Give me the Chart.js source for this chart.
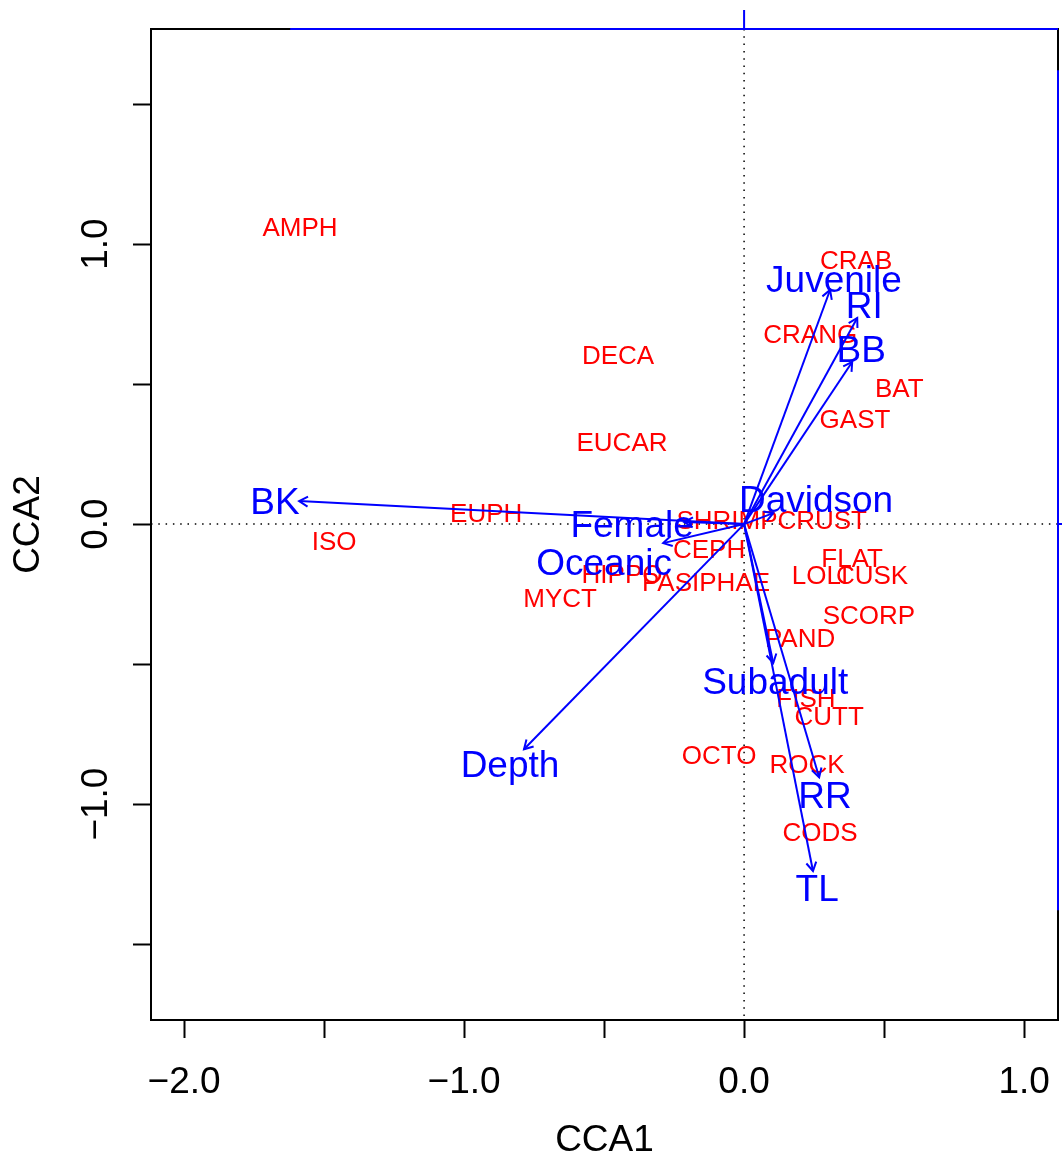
<!DOCTYPE html>
<html lang="en">
<head>
<meta charset="UTF-8">
<title>CCA biplot</title>
<script src="https://cdn.jsdelivr.net/npm/chart.js"></script>
<style>
  html, body { margin: 0; padding: 0; background: #fff; }
  #wrap { width: 1062px; height: 1155px; }
</style>
</head>
<body>
<div id="wrap"><canvas id="cca"></canvas></div>
<script>
// species scores (red labels)
const species = ["AMPH", "CRAB", "CRANG", "DECA", "BAT", "GAST", "EUCAR", "EUPH", "SHRIMP",
  "CRUST", "ISO", "CEPH", "FLAT", "HIPPO", "LOLI", "CUSK", "PASIPHAE", "MYCT", "SCORP",
  "PAND", "FISH", "CUTT", "OCTO", "ROCK", "CODS"];
const speciesX = [-1.586, 0.400, 0.236, -0.450, 0.554, 0.396, -0.436, -0.921, -0.061,
  0.279, -1.464, -0.125, 0.386, -0.436, 0.271, 0.457, -0.136, -0.657, 0.446,
  0.200, 0.221, 0.304, -0.089, 0.225, 0.271];
const speciesY = [1.064, 0.946, 0.682, 0.607, 0.489, 0.379, 0.296, 0.043, 0.018,
  0.018, -0.057, -0.086, -0.118, -0.175, -0.179, -0.179, -0.204, -0.261, -0.321,
  -0.404, -0.618, -0.682, -0.821, -0.854, -1.096];

// biplot arrows (blue): arrow tips and label positions
const envVars = ["Juvenile", "RI", "BB", "Davidson", "Female", "Oceanic", "BK", "Depth", "Subadult", "RR", "TL"];
const envX = [0.307, 0.404, 0.386, 0.104, -0.214, -0.289, -1.589, -0.786, 0.104, 0.268, 0.246];
const envY = [0.836, 0.736, 0.579, 0.039, 0.007, -0.068, 0.082, -0.804, -0.496, -0.904, -1.239];
const envLabelX = [0.321, 0.429, 0.418, 0.257, -0.400, -0.500, -1.675, -0.836, 0.111, 0.289, 0.261];
const envLabelY = [0.882, 0.786, 0.632, 0.096, 0.007, -0.129, 0.086, -0.850, -0.557, -0.961, -1.296];

// axes
const xTicks = [-2, -1.5, -1, -0.5, 0, 0.5, 1];
const yTicks = [-1.5, -1, -0.5, 0, 0.5, 1, 1.5];
const labelledTicks = [-2, -1, 0, 1];
const xRange = [-2.118, 1.121];
const yRange = [-1.771, 1.768];
// extent of the blue arrow-scale axes on top and right
const blueTop = [-1.621, 1.121];
const blueRight = [-1.379, 1.621];

const RED = "#ff0000";
const BLUE = "#0000ff";
const FONT = "'Liberation Sans', Arial, Helvetica, sans-serif";
Chart.defaults.font.family = FONT;

function fmt(v) {
  if (!labelledTicks.includes(v)) return "";
  return (v < 0 ? "\u2212" : "") + Math.abs(v).toFixed(1);
}

// text centred on its capitals, like R's text()
function centredText(ctx, str, px, py, size) {
  ctx.fillText(str, px, py + 0.39 * size);
}

const biplot = {
  id: "biplot",
  beforeDatasetsDraw(chart) {
    const { ctx, chartArea: a, scales: { x, y } } = chart;
    ctx.save();
    // dotted zero lines
    ctx.strokeStyle = "#000";
    ctx.lineWidth = 1.5;
    ctx.setLineDash([1.5, 5.8]);
    ctx.beginPath();
    ctx.moveTo(x.getPixelForValue(0), a.top);
    ctx.lineTo(x.getPixelForValue(0), a.bottom);
    ctx.moveTo(a.left, y.getPixelForValue(0));
    ctx.lineTo(a.right, y.getPixelForValue(0));
    ctx.stroke();
    ctx.setLineDash([]);
    // species names
    ctx.fillStyle = RED;
    ctx.font = "26px " + FONT;
    ctx.textAlign = "center";
    ctx.textBaseline = "alphabetic";
    chart.getDatasetMeta(0).data.forEach((pt, i) => centredText(ctx, species[i], pt.x, pt.y, 26));
    ctx.restore();
  },
  afterDatasetsDraw(chart) {
    const { ctx, chartArea: a, scales: { x, y } } = chart;
    ctx.save();
    // arrow heads
    ctx.strokeStyle = BLUE;
    ctx.lineWidth = 2;
    const len = 10, ang = Math.PI / 6;
    envVars.forEach((name, i) => {
      const [p0, p1] = chart.getDatasetMeta(i + 1).data;
      const t = Math.atan2(p1.y - p0.y, p1.x - p0.x);
      ctx.beginPath();
      ctx.moveTo(p1.x - len * Math.cos(t - ang), p1.y - len * Math.sin(t - ang));
      ctx.lineTo(p1.x, p1.y);
      ctx.lineTo(p1.x - len * Math.cos(t + ang), p1.y - len * Math.sin(t + ang));
      ctx.stroke();
    });
    // arrow labels
    ctx.fillStyle = BLUE;
    ctx.font = "37px " + FONT;
    ctx.textAlign = "center";
    ctx.textBaseline = "alphabetic";
    envVars.forEach((name, i) => {
      centredText(ctx, name, x.getPixelForValue(envLabelX[i]), y.getPixelForValue(envLabelY[i]), 37);
    });
    // plot box
    ctx.strokeStyle = "#000";
    ctx.lineWidth = 2;
    ctx.strokeRect(a.left, a.top, a.right - a.left, a.bottom - a.top);
    // blue axes for the arrow scale
    ctx.strokeStyle = BLUE;
    ctx.beginPath();
    ctx.moveTo(x.getPixelForValue(blueTop[0]), a.top);
    ctx.lineTo(x.getPixelForValue(blueTop[1]), a.top);
    ctx.moveTo(x.getPixelForValue(0), a.top);
    ctx.lineTo(x.getPixelForValue(0), a.top - 19);
    ctx.moveTo(a.right, y.getPixelForValue(blueRight[1]));
    ctx.lineTo(a.right, y.getPixelForValue(blueRight[0]));
    ctx.moveTo(a.right, y.getPixelForValue(0));
    ctx.lineTo(a.right + 19, y.getPixelForValue(0));
    ctx.stroke();
    ctx.restore();
  }
};

const datasets = [{
  label: "species",
  data: speciesX.map((v, i) => ({ x: v, y: speciesY[i] })),
  pointRadius: 0,
  showLine: false
}].concat(envVars.map((name, i) => ({
  label: name,
  data: [{ x: 0, y: 0 }, { x: envX[i], y: envY[i] }],
  showLine: true,
  borderColor: BLUE,
  borderWidth: 2,
  pointRadius: 0
})));

new Chart(document.getElementById("cca"), {
  type: "scatter",
  data: { datasets },
  plugins: [biplot],
  options: {
    responsive: true,
    maintainAspectRatio: false,
    animation: false,
    events: [],
    layout: { padding: { top: 29, right: 4, left: 0, bottom: 0 } },
    plugins: { legend: { display: false }, tooltip: { enabled: false } },
    scales: {
      x: {
        type: "linear",
        position: "bottom",
        min: xRange[0],
        max: xRange[1],
        afterBuildTicks: s => { s.ticks = xTicks.map(v => ({ value: v })); },
        afterFit: s => { s.height = 135; s.paddingLeft = 0; s.paddingRight = 0; },
        border: { display: false },
        grid: { drawOnChartArea: false, drawTicks: true, tickLength: 18, tickWidth: 2, tickColor: "#000" },
        ticks: {
          autoSkip: false, maxRotation: 0, minRotation: 0, padding: 26,
          color: "#000", font: { size: 37, lineHeight: 1 },
          callback: v => fmt(v)
        },
        title: {
          display: true, text: "CCA1", color: "#000",
          font: { size: 37, lineHeight: 1 }, padding: { top: 0, bottom: -4 }
        }
      },
      y: {
        type: "linear",
        position: "left",
        min: yRange[0],
        max: yRange[1],
        afterBuildTicks: s => { s.ticks = yTicks.map(v => ({ value: v })); },
        afterFit: s => { s.width = 151; s.paddingTop = 0; s.paddingBottom = 0; },
        border: { display: false },
        grid: { drawOnChartArea: false, drawTicks: true, tickLength: 18, tickWidth: 2, tickColor: "#000" },
        ticks: {
          autoSkip: false, minRotation: 90, maxRotation: 90, crossAlign: "center", padding: 0,
          color: "#000", font: { size: 37, lineHeight: 1 },
          callback: v => fmt(v)
        },
        title: {
          display: true, text: "CCA2", color: "#000",
          font: { size: 37, lineHeight: 1 }, padding: { top: 10, bottom: 0 }
        }
      }
    }
  }
});
</script>
</body>
</html>
